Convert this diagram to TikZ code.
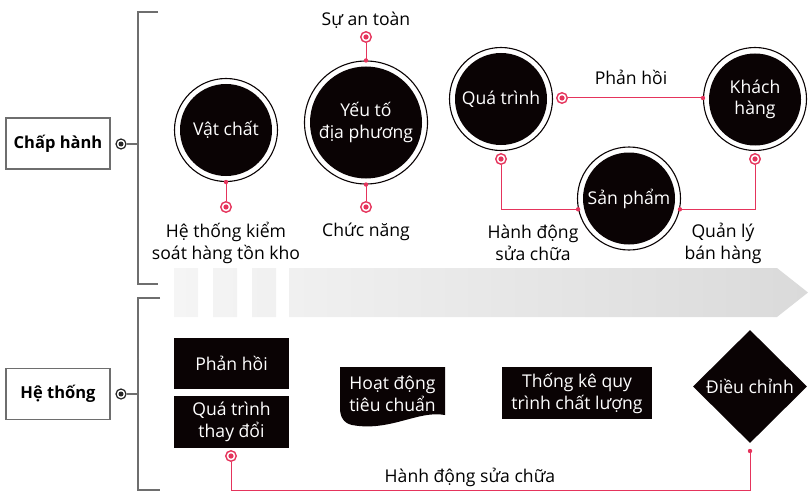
\documentclass[tikz,border=0pt]{standalone}
\usepackage{fontspec}
\setmainfont{Open Sans}
\usetikzlibrary{shapes.geometric,calc}
\definecolor{crim}{HTML}{E5345C}
\definecolor{brk}{HTML}{6E6E6E}
\definecolor{bandL}{HTML}{F5F5F5}
\definecolor{bandR}{HTML}{DADADA}
\definecolor{blk}{HTML}{0A0304}
\tikzset{
  txt/.style={font=\fontsize{17.6}{22}\selectfont, align=center, inner sep=0pt},
  bigc/.style={circle, fill=blk, text=white, inner sep=0pt, minimum size=#1, txt},
  ringc/.style={circle, draw=blk, line width=1.1pt, inner sep=0pt, minimum size=#1},
  rpin/.style={circle, draw=crim, line width=1.4pt, fill=white, minimum size=10.5pt, inner sep=0pt,
     path picture={\fill[crim] (path picture bounding box.center) circle (2.6pt);}},
  gpin/.style={circle, draw=black!85, line width=1.2pt, fill=white, minimum size=10pt, inner sep=0pt,
     path picture={\fill[black!85] (path picture bounding box.center) circle (2.5pt);}},
  rline/.style={draw=crim, line width=1pt},
  brline/.style={draw=brk, line width=1.8pt},
  sidebox/.style={draw=brk, line width=1.5pt, minimum width=104pt, minimum height=51pt, inner sep=0pt,
     font=\fontsize{16.5}{21}\selectfont\bfseries},
  blkbox/.style={fill=blk, text=white, txt, inner sep=0pt},
}
\begin{document}
\begin{tikzpicture}[x=1pt,y=-1pt]
\useasboundingbox (0,0) rectangle (810,500);
% ---------- gradient band ----------
\shade[left color=bandL, right color=bandR]
  (174,268) rectangle (198,317)
  (213,268) rectangle (237,317)
  (252,268) rectangle (276,317)
  (289,268) -- (777,268) -- (808,292.5) -- (777,317) -- (289,317) -- cycle;
% ---------- side boxes and brackets ----------
\node[sidebox] (ch) at (58,143.5) {Chấp hành};
\node[sidebox] (ht) at (58,394) {Hệ thống};
\node[gpin] (g1) at (121,144) {};
\node[gpin] (g2) at (121,394) {};
\coordinate (b1t) at (158,12);
\coordinate (b1b) at (158,284);
\coordinate (b2t) at (160,298);
\coordinate (b2b) at (160,490);
\draw[brline] (b1t) -- (138,12) -- (138,284) -- (b1b);
\draw[brline] (b2t) -- (138,298) -- (138,490) -- (b2b);
\draw[brline] (g1) -- (138,144);
\draw[brline] (g2) -- (138,394);
% ---------- circles ----------
\node[bigc=92pt] (c1) at (226,130) {Vật chất};
\node[ringc=103pt] (c1o) at (226,130) {};
\node[bigc=112pt] (c2) at (366,122.5) {Yếu tố\\địa phương};
\node[ringc=123pt] (c2o) at (366,122.5) {};
\node[bigc=92pt] (c3) at (501,99) {Quá trình};
\node[ringc=103pt] (c3o) at (501,99) {};
\node[bigc=92pt, font=\fontsize{17.6}{20.5}\selectfont] (c4) at (755,99.5) {Khách\\hàng};
\node[ringc=103pt] (c4o) at (755,99) {};
\node[bigc=92pt] (c5) at (629,198.5) {Sản phẩm};
\node[ringc=103pt] (c5o) at (629,198.5) {};
% ---------- pins and labels top ----------
\node[rpin] (p1) at (226,207) {};
\node[txt] (l1) at (226,243) {Hệ thống kiểm\\soát hàng tồn kho};
\draw[rline] (p1) -- (c1o.south);
\fill[crim] (c1o.south) circle (2.2);
\node[rpin] (p2) at (366,37) {};
\node[txt] (l2) at (366,20.5) {Sự an toàn};
\draw[rline] (p2) -- (c2o.north);
\fill[crim] (c2o.north) circle (2.2);
\node[rpin] (p3) at (366,207) {};
\node[txt] (l3) at (366,232) {Chức năng};
\draw[rline] (p3) -- (c2o.south);
\fill[crim] (c2o.south) circle (2.2);
\node[rpin] (p4) at (562,98) {};
\node[txt] (l4) at (631,77) {Phản hồi};
\draw[rline] (p4) -- (p4 -| c4o.west);
\fill[crim] (p4 -| c4o.west) circle (2.2);
\node[rpin] (p5) at (501,159) {};
\node[txt] (l5) at (533,243) {Hành động\\sửa chữa};
\draw[rline] (p5) |- (c5o.192);
\fill[crim] (c5o.192) circle (2.2);
\node[rpin] (p6) at (755,159) {};
\node[txt] (l6) at (723,243) {Quản lý\\bán hàng};
\draw[rline] (p6) |- (c5o.-12);
\fill[crim] (c5o.-12) circle (2.2);
% ---------- bottom shapes ----------
\node[blkbox, minimum width=115pt, minimum height=51pt] (b1) at (231.5,363.5) {Phản hồi};
\node[blkbox, minimum width=115pt, minimum height=52pt] (b2) at (231.5,422) {Quá trình\\thay đổi};
\fill[blk] (340,367) -- (445,367) -- (445,415)
   .. controls (418,410) and (390,432) .. (352,425)
   .. controls (343,423) and (340,416) .. (340,408) -- cycle;
\node[txt, text=white] (b3) at (392.5,394) {Hoạt động\\tiêu chuẩn};
\node[blkbox, minimum width=150pt, minimum height=52pt] (b4) at (577,393) {Thống kê quy\\trình chất lượng};
\node[diamond, fill=blk, text=white, txt, aspect=1, minimum width=114pt, minimum height=113pt, inner sep=0pt] (d1) at (750,386.5) {Điều chỉnh};
\node[rpin] (p7) at (231,456) {};
\coordinate (dd) at (750,451);
\coordinate (corner) at (750,490);
\draw[rline] (p7) |- (corner) -- (dd);
\fill[crim] (dd) circle (2.2);
\node[txt] (l7) at (470,477.5) {Hành động sửa chữa};
\end{tikzpicture}
\end{document}
